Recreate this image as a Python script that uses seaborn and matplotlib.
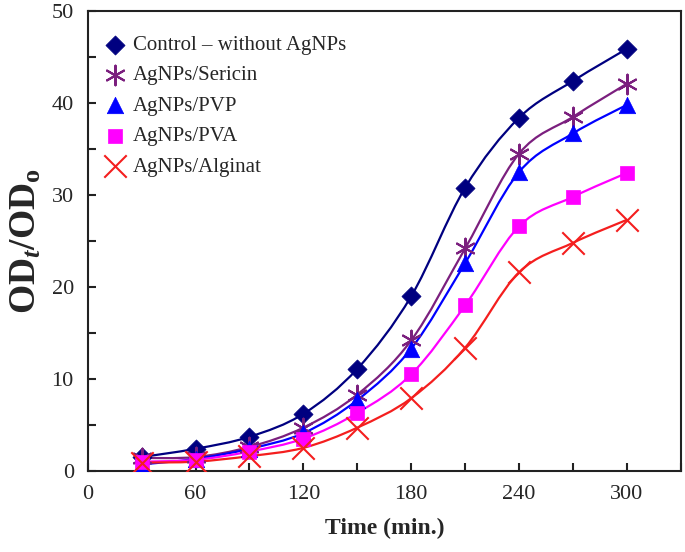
import numpy as np
import pandas as pd
import matplotlib
matplotlib.use("Agg")
import matplotlib.pyplot as plt
import seaborn as sns
from matplotlib.path import Path
from matplotlib.patches import PathPatch
from matplotlib.ticker import MultipleLocator, FuncFormatter

# time points (min.)
time = [30, 60, 90, 120, 150, 180, 210, 240, 270, 300]

control = [1.5, 2.4, 3.7, 6.2, 11.1, 19.0, 30.8, 38.4, 42.4, 45.9]
sericin = [1.4, 1.5, 2.6, 4.7, 8.3, 14.2, 24.2, 34.5, 38.5, 42.1]
pvp = [0.7, 1.3, 2.4, 4.1, 7.7, 13.3, 22.6, 32.5, 36.7, 39.8]
pva = [1.0, 1.2, 2.1, 3.5, 6.3, 10.5, 18.0, 26.6, 29.8, 32.4]
alginat = [0.9, 1.0, 1.6, 2.5, 4.7, 7.9, 13.4, 21.6, 24.8, 27.3]

labels = ["Control \u2013 without AgNPs", "AgNPs/Sericin", "AgNPs/PVP",
          "AgNPs/PVA", "AgNPs/Alginat"]
series = [control, sericin, pvp, pva, alginat]
colors = ["#000080", "#7B1F7E", "#0000FF", "#FF00FF", "#F41E1E"]
markers = ["D", (6, 2, 0), "^", "s", "x"]
sizes = [95, 200, 140, 95, 260]

sns.set_style("ticks")
plt.rcParams["font.family"] = ["Liberation Serif", "DejaVu Serif"]
plt.rcParams["mathtext.fontset"] = "custom"
plt.rcParams["mathtext.rm"] = "Liberation Serif:bold"
plt.rcParams["mathtext.it"] = "Liberation Serif:italic:bold"


def smooth_path(xs, ys):
    """Cubic bezier path through the points (Excel-like smoothed line)."""
    pts = np.column_stack([xs, ys]).astype(float)
    verts = [pts[0]]
    codes = [Path.MOVETO]
    n = len(pts)
    for i in range(n - 1):
        p0 = pts[max(i - 1, 0)]
        p1 = pts[i]
        p2 = pts[i + 1]
        p3 = pts[min(i + 2, n - 1)]
        c1 = p1 + (p2 - p0) / 6.0
        c2 = p2 - (p3 - p1) / 6.0
        verts += [c1, c2, p2]
        codes += [Path.CURVE4] * 3
    return Path(verts, codes)


fig, ax = plt.subplots(figsize=(6.85, 5.52), dpi=100)
fig.subplots_adjust(left=0.128, right=0.994, bottom=0.147, top=0.98)

for lab, vals, col, mk, sz in zip(labels, series, colors, markers, sizes):
    ax.add_patch(PathPatch(smooth_path(time, vals), facecolor="none",
                           edgecolor=col, lw=1.6, zorder=2))
    df = pd.DataFrame({"time": time, "od": vals})
    if mk in ("x", (6, 2, 0)):
        sns.scatterplot(data=df, x="time", y="od", marker=mk, s=sz, color=col,
                        linewidth=1.5, ax=ax, zorder=3, label=lab)
    else:
        sns.scatterplot(data=df, x="time", y="od", marker=mk, s=sz, color=col,
                        edgecolor=col, linewidth=0.5, ax=ax, zorder=3, label=lab)

ax.set_xlim(0, 330)
ax.set_ylim(0, 50)
ax.xaxis.set_major_locator(MultipleLocator(30))
ax.yaxis.set_major_locator(MultipleLocator(5))
ax.xaxis.set_major_formatter(FuncFormatter(lambda v, p: f"{int(v)}" if v % 60 == 0 and v < 330 else ""))
ax.yaxis.set_major_formatter(FuncFormatter(lambda v, p: f"{int(v)}" if v % 10 == 0 else ""))
ax.tick_params(direction="in", length=6, width=1.5, labelsize=16, pad=10, color="#222222")

for sp in ax.spines.values():
    sp.set_linewidth(1.5)
    sp.set_color("#222222")

ax.set_xlabel("Time (min.)", fontsize=17, fontweight="bold", labelpad=10)
ax.set_ylabel(r"OD$_{\mathit{t}}$/OD$_{\mathrm{o}}$", fontsize=27, fontweight="bold", labelpad=6)

leg = ax.legend(loc="upper left", frameon=False, fontsize=15, handletextpad=0.15,
                labelspacing=0.52, borderaxespad=0.0, handlelength=1.4,
                bbox_to_anchor=(0.008, 0.965))

fig.savefig("out.png", dpi=100)
